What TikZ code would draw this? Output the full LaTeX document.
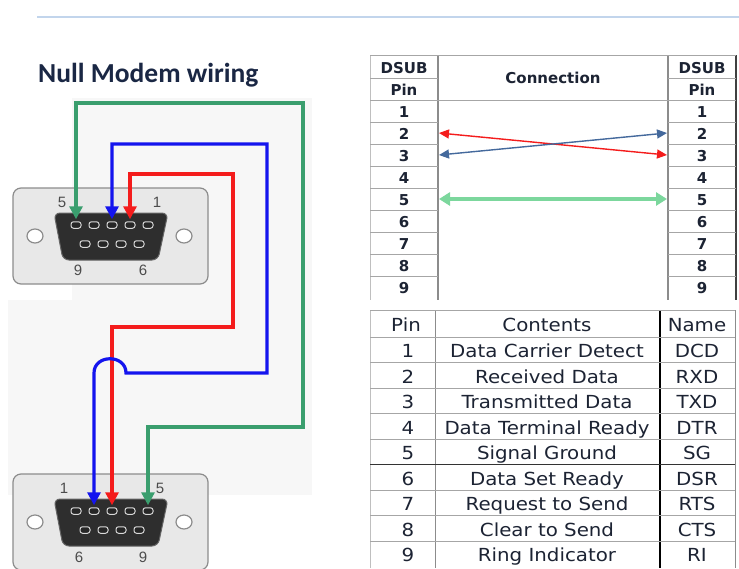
\documentclass[tikz,border=0pt]{standalone}
\usepackage{fontspec}
\setmainfont{DejaVu Sans}
\newfontfamily\titlefont{Carlito}
\newfontfamily\labelfont{Liberation Sans}
\newfontfamily\tablefont{DejaVu Sans}[FakeStretch=1.1]
\usetikzlibrary{arrows.meta}

\definecolor{ink}{HTML}{1C2333}
\definecolor{titleink}{HTML}{1A2744}
\definecolor{wgreen}{HTML}{3A9E6E}
\definecolor{wblue}{HTML}{1414EE}
\definecolor{wred}{HTML}{F41C1C}
\definecolor{lgreen}{HTML}{7CD79D}
\definecolor{sblue}{HTML}{44699C}
\definecolor{toprule}{HTML}{C2D5EC}

\begin{document}
\begin{tikzpicture}[x=1pt, y=-1pt,
		wire/.style={line width=3.2pt, {Triangle[width=13pt,length=13pt]}-{Triangle[width=13pt,length=13pt]}, shorten <=2pt, shorten >=2pt},
		link/.style={line width=1.4pt, {Triangle[width=9pt,length=10pt]}-{Triangle[width=9pt,length=10pt]}},
		contact/.style={draw=white!85!black, fill=black!85, line width=1pt, minimum width=10pt, minimum height=6.5pt, inner sep=0pt, rounded corners=2.5pt},
		lbl/.style={font=\labelfont\fontsize{15}{15}\selectfont, text=black!70, inner sep=0pt},
		cell/.style={font=\bfseries\fontsize{15}{15}\selectfont, text=ink, inner sep=0pt, text height=12pt, text depth=1pt},
		entry/.style={font=\tablefont\fontsize{18}{18}\selectfont, text=ink, inner sep=0pt, text height=14pt, text depth=1pt},
		thin line/.style={black!35, line width=0.8pt}]
		\useasboundingbox (0,0) rectangle (739,568);

		\draw [toprule, line width=2.5pt](37,17)--(739,17);
		\node [anchor=west, font=\titlefont\bfseries\fontsize{27.5}{27.5}\selectfont, text=titleink, inner sep=0pt](title) at (38,75) {Null Modem wiring};

		\fill [black!3](72,98) rectangle (312,495);
		\fill [black!3](8,300) rectangle (72,495);

		\foreach \y in {188,474}{
			\draw [black!45, fill=black!9, line width=1.2pt, rounded corners=8pt](13,\y) rectangle (208,\y+96);
			\draw [black!60, fill=black!82, line width=1pt, rounded corners=6pt](54,\y+25)--(168,\y+25)--(158,\y+72)--(63,\y+72)--cycle;
			\draw [black!45, fill=white, line width=1.2pt](35,\y+48) ellipse (8 and 7);
			\draw [black!45, fill=white, line width=1.2pt](184,\y+48) ellipse (8 and 7);
		}

		\foreach \i/\x in {1/148,2/130,3/112,4/94,5/76} \node [contact](t\i) at (\x,225) {};
		\foreach \i/\x in {6/139,7/121,8/103,9/85} \node [contact](t\i) at (\x,244) {};
		\foreach \i/\x in {1/76,2/94,3/112,4/130,5/148} \node [contact](b\i) at (\x,511) {};
		\foreach \i/\x in {6/85,7/103,8/121,9/139} \node [contact](b\i) at (\x,530) {};

		\node [lbl](t5l) at (62,202) {5};
		\node [lbl](t1l) at (157,202) {1};
		\node [lbl](t9l) at (78,270) {9};
		\node [lbl](t6l) at (143,270) {6};
		\node [lbl](b1l) at (64,488) {1};
		\node [lbl](b5l) at (160,488) {5};
		\node [lbl](b6l) at (79,557) {6};
		\node [lbl](b9l) at (143,557) {9};

		\draw [wire, wgreen](t5.north)|-(303,103)|-(148,427)--(b5.north);
		\draw [wire, wred](t2.north)|-(233,174)|-(112,327)--(b3.north);
		\draw [wire, wblue](t3.north)|-(267,144)|-(126,373) .. controls (126,354) and (94,354) .. (94,373)--(b2.north);

		\draw [black!25, line width=0.8pt](370,55)--(370,300);
		\draw [black!45, line width=1.6pt](438,55)--(438,300);
		\draw [black!45, line width=1.6pt](668,55)--(668,300);
		\draw [black!75, line width=1.2pt](736,55)--(736,300);
		\draw [thin line](370,55)--(736,55);
		\draw [thin line](370,100)--(736,100);
		\foreach \y in {78,122,144,...,276}
			\draw [thin line](370,\y)--(438,\y) (668,\y)--(736,\y);

		\node [cell](dsubl) at (404,68) {DSUB};
		\node [cell](pinl) at (404,90) {Pin};
		\node [cell](conn) at (553,77.5) {Connection};
		\node [cell](dsubr) at (702,68) {DSUB};
		\node [cell](pinr) at (702,90) {Pin};
		\foreach \i in {1,...,9}{
			\node [cell](l\i) at (404,90+22*\i) {\i};
			\node [cell](r\i) at (702,90+22*\i) {\i};
			\coordinate (la\i) at (439,89+22*\i);
			\coordinate (ra\i) at (667,89+22*\i);
		}
		\draw [link, wred](la2)--(ra3);
		\draw [link, sblue](la3)--(ra2);
		\draw [lgreen, line width=3.5pt, {Triangle[width=13pt,length=11pt]}-{Triangle[width=13pt,length=11pt]}](la5)--(ra5);

		\draw [black!25, line width=0.8pt](370,310)--(370,568);
		\draw [black!45, line width=1pt](435,310)--(435,568);
		\draw [black, line width=1.2pt](660,310)--(660,568);
		\draw [black!45, line width=1pt](735,310)--(735,568);
		\draw [thin line](370,310)--(735,310);
		\foreach \y in {337,362.5,...,541}
			\draw [thin line](370,\y)--(735,\y);
		\draw [black!80, line width=1pt](370,464.5)--(735,464.5);

		\node [entry](ph) at (406,325) {Pin};
		\node [entry](ch) at (547,325) {Contents};
		\node [entry](nh) at (697,325) {Name};
		\foreach \i/\c/\n in {1/Data Carrier Detect/DCD, 2/Received Data/RXD, 3/Transmitted Data/TXD, 4/Data Terminal Ready/DTR, 5/Signal Ground/SG, 6/Data Set Ready/DSR, 7/Request to Send/RTS, 8/Clear to Send/CTS, 9/Ring Indicator/RI}{
			\node [entry](p\i) at (408,325.5+25.5*\i) {\i};
			\node [entry](c\i) at (547,325.5+25.5*\i) {\c};
			\node [entry](n\i) at (697,325.5+25.5*\i) {\n};
		}
	\end{tikzpicture}
\end{document}
